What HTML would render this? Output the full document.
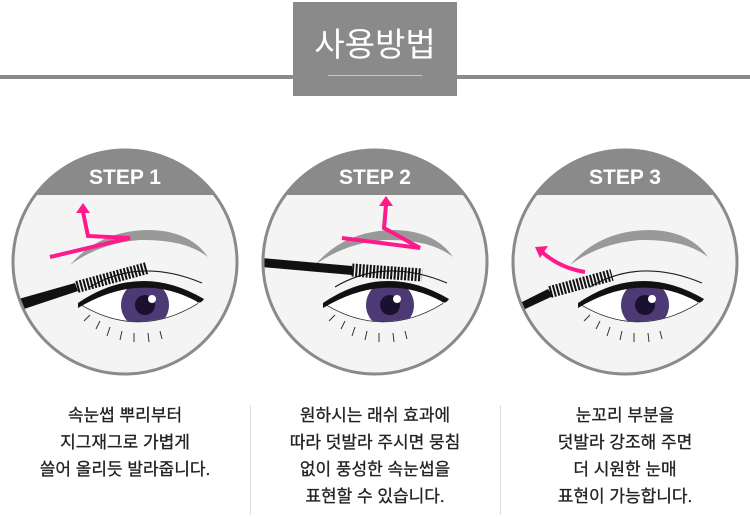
<!DOCTYPE html>
<html><head><meta charset="utf-8"><style>
body{margin:0;width:750px;height:517px;background:#fff;overflow:hidden;position:relative;font-family:"Liberation Sans","Noto Sans CJK KR",sans-serif}
.line{position:absolute;left:0;top:75px;width:750px;height:4px;background:#8a8a8a}
.box{position:absolute;left:293px;top:2px;width:164px;height:94px;background:#8a8a8a}
.box span{position:absolute;left:0;width:164px;top:16px;text-align:center;color:#fff;font-size:33px}
.box i{position:absolute;left:35px;top:73px;width:94px;height:1px;background:#c8c8c8}
.t{position:absolute;top:402px;width:250px;text-align:center;font-size:17px;line-height:27px;color:#222;-webkit-text-stroke:0.3px #222}
.d{position:absolute;top:405px;width:1px;height:110px;background:#ddd}
</style></head><body>
<div class="line"></div>
<div class="box"><span>사용방법</span><i></i></div>
<svg width="750" height="400" style="position:absolute;left:0;top:0">
<defs>
<clipPath id="c1"><circle cx="125" cy="262" r="112"/></clipPath>
<clipPath id="c2"><circle cx="375" cy="262" r="112"/></clipPath>
<clipPath id="c3"><circle cx="625" cy="262" r="112"/></clipPath>
<clipPath id="eo"><path d="M-58 30 Q0 -8 58 28 Q0 64 -58 30Z"/></clipPath>
<g id="eye">
<path d="M-70 -10 Q-40 -45 10 -45 Q50 -44 68 -18 Q45 -36 0 -35 Q-40 -32 -70 -10Z" fill="#999"/>
<path d="M-58 30 Q0 64 58 28" fill="none" stroke="#222" stroke-width="1.5"/>
<g clip-path="url(#eo)"><rect x="-60" y="-10" width="120" height="80" fill="#fff"/><circle cx="5" cy="30" r="24" fill="#4d3a75"/><circle cx="5" cy="30" r="10" fill="#1a1030"/><circle cx="12" cy="24" r="4" fill="#fff"/></g>
<path d="M-62 28 Q0 -14 64 24 Q60 30 56 26 Q0 -4 -62 33Z" fill="#111"/>
<path d="M-50 12 Q0 -18 62 8" fill="none" stroke="#222" stroke-width="1.2"/>
<g stroke="#333" stroke-width="1"><path d="M-40 46 l-4 8 M-30 52 l-3 9 M-18 56 l-2 9 M-6 58 l0 9 M8 58 l1 9 M20 56 l2 8 M-50 40 l-6 6"/></g>
</g>
</defs>
<g clip-path="url(#c1)"><rect x="0" y="150" width="250" height="240" fill="#f4f4f4"/><rect x="0" y="140" width="250" height="55" fill="#8a8a8a"/>
<use href="#eye" x="140" y="275"/>
<path d="M15 300 L75 283 L78 291 L18 311Z" fill="#111"/>
<path d="M77 287 L147 268" stroke="#111" stroke-width="12" stroke-dasharray="2 1.5"/>
<polyline points="50,257 130,238 88,236 83,212" fill="none" stroke="#ff1a8c" stroke-width="4"/>
<path d="M76 213 L83 203 L90 213Z" fill="#ff1a8c"/>
</g>
<g clip-path="url(#c2)"><rect x="250" y="150" width="250" height="240" fill="#f4f4f4"/><rect x="250" y="140" width="250" height="55" fill="#8a8a8a"/>
<use href="#eye" x="385" y="275"/>
<path d="M262 258 L352 266 L352 275 L262 267Z" fill="#111"/>
<path d="M352 270 L422 275" stroke="#111" stroke-width="13" stroke-dasharray="2 1.5"/>
<polyline points="342,238 420,248 384,228 386,205" fill="none" stroke="#ff1a8c" stroke-width="4"/>
<path d="M379 206 L386 196 L393 206Z" fill="#ff1a8c"/>
</g>
<g clip-path="url(#c3)"><rect x="500" y="150" width="250" height="240" fill="#f4f4f4"/><rect x="500" y="140" width="250" height="55" fill="#8a8a8a"/>
<use href="#eye" x="640" y="275"/>
<path d="M520 303 L548 289 L553 296 L523 310Z" fill="#111"/>
<path d="M550 292 L612 275" stroke="#111" stroke-width="12" stroke-dasharray="2 1.5"/>
<path d="M585 272 Q560 268 542 252" fill="none" stroke="#ff1a8c" stroke-width="4"/>
<path d="M535 247 L548 246 L540 258Z" fill="#ff1a8c"/>
</g>
<g fill="none" stroke="#8a8a8a" stroke-width="3"><circle cx="125" cy="262" r="112"/><circle cx="375" cy="262" r="112"/><circle cx="625" cy="262" r="112"/></g>
<g fill="#fff" font-size="21" font-weight="bold" text-anchor="middle" font-family="Liberation Sans,sans-serif"><text x="125" y="184">STEP 1</text><text x="375" y="184">STEP 2</text><text x="625" y="184">STEP 3</text></g>
</svg>
<div class="d" style="left:250px"></div><div class="d" style="left:500px"></div>
<div class="t" style="left:0">속눈썹 뿌리부터<br>지그재그로 가볍게<br>쓸어 올리듯 발라줍니다.</div>
<div class="t" style="left:250px">원하시는 래쉬 효과에<br>따라 덧발라 주시면 뭉침<br>없이 풍성한 속눈썹을<br>표현할 수 있습니다.</div>
<div class="t" style="left:500px">눈꼬리 부분을<br>덧발라 강조해 주면<br>더 시원한 눈매<br>표현이 가능합니다.</div>
</body></html>
